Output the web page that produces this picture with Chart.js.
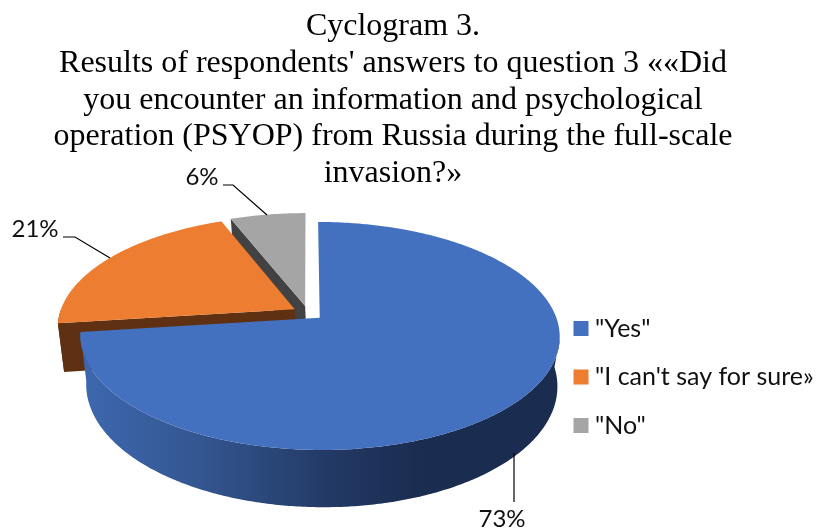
<!DOCTYPE html>
<html>
<head>
<meta charset="utf-8">
<script src="https://cdn.jsdelivr.net/npm/chart.js@4"></script>
<style>
html,body{margin:0;padding:0;background:#fff}
canvas{display:block}
</style>
</head>
<body>
<canvas id="chart" width="817" height="531"></canvas>
<script>
const answers = ['"Yes"', '"I can\'t say for sure»', '"No"'];
const shares = [73, 21, 6];
const faceColors = ['#4371C0', '#ED7D31', '#A5A5A5'];
const sideColors = [null, '#5F3112', '#424242'];
const titleLines = [
  'Cyclogram 3.',
  "Results of respondents' answers to question 3 ««Did",
  'you encounter an information and psychological',
  'operation (PSYOP) from Russia during the full-scale',
  'invasion?»'
];

// Perspective model of the pie: a unit disc projected on two parallel planes.
const upper = { cx: 308, cy: 313, a: 235, b: 109.6, k: 0.158 };
const lower = { cx: 310, cy: 361, a: 231, b: 117, k: 0.158 };
const explode = 0.066;

// Leader lines and value labels around the pie.
const callouts = [
  { text: [502, 519], path: [[514, 453], [514, 502]] },
  { text: [35, 229], path: [[63, 237], [75, 237], [110, 258]] },
  { text: [202, 177], path: [[223, 185], [233, 185], [267, 215]] }
];

function project(plane, u, v) {
  const d = 1 - plane.k * v;
  return [plane.cx + plane.a * u / d, plane.cy + plane.b * v / d];
}

// Rim of an exploded slice on one plane, limited to angles accepted by keep.
function arcPoints(plane, arc, keep) {
  const mid = (arc.startAngle + arc.endAngle) / 2;
  const ox = explode * Math.cos(mid), oy = explode * Math.sin(mid);
  const steps = Math.ceil((arc.endAngle - arc.startAngle) / 0.01);
  const pts = [];
  for (let i = 0; i <= steps; i++) {
    const t = arc.startAngle + (arc.endAngle - arc.startAngle) * i / steps;
    if (keep && !keep(t)) continue;
    pts.push(project(plane, ox + Math.cos(t), oy + Math.sin(t)));
  }
  return { pts, apex: project(plane, ox, oy) };
}

// The outer wall runs between the tangent points of the two rims.
const upperFront = t => Math.sin(t) >= (Math.cos(t) > 0 ? 0.18 : 0);
const lowerFront = t => Math.sin(t) >= 0;

function fillPath(ctx, pts, style) {
  ctx.beginPath();
  pts.forEach((p, i) => i ? ctx.lineTo(p[0], p[1]) : ctx.moveTo(p[0], p[1]));
  ctx.closePath();
  ctx.fillStyle = style;
  ctx.fill();
}

const pie3d = {
  id: 'pie3d',
  afterLayout(chart) {
    chart.titleBlock.right = 786;
    const lg = chart.legend;
    lg.left = 579.5 - 23.5;
    lg.top = 316 - 23.5;
    lg.bottom = 531;
  },
  beforeDatasetsDraw(chart) {
    const ctx = chart.ctx;
    const arcs = chart.getDatasetMeta(0).data;
    const blueSide = ctx.createLinearGradient(85, 0, 420, 0);
    blueSide.addColorStop(0, '#3D67AE');
    blueSide.addColorStop(0.35, '#33568F');
    blueSide.addColorStop(0.72, '#233A66');
    blueSide.addColorStop(1, '#1A2C50');

    // Back slices first so the large front slice overlaps them.
    [2, 1, 0].forEach(i => {
      const arc = arcs[i];
      const side = sideColors[i] || blueSide;
      const top = arcPoints(upper, arc);
      const bot = arcPoints(lower, arc);
      if (i > 0) {
        fillPath(ctx, [top.apex, top.pts[0], bot.pts[0], bot.apex], side);
      }
      const rimTop = arcPoints(upper, arc, upperFront).pts;
      const rimBot = arcPoints(lower, arc, lowerFront).pts;
      if (rimTop.length > 1) {
        fillPath(ctx, rimTop.concat(rimBot.reverse()), side);
      }
      fillPath(ctx, [top.apex].concat(top.pts), faceColors[i]);
    });

    // Leader lines and percentage labels.
    ctx.strokeStyle = '#000';
    ctx.lineWidth = 1.2;
    ctx.fillStyle = '#111';
    ctx.font = '24px Lato';
    ctx.textAlign = 'center';
    ctx.textBaseline = 'middle';
    callouts.forEach((c, i) => {
      ctx.beginPath();
      c.path.forEach((p, j) => j ? ctx.lineTo(p[0], p[1]) : ctx.moveTo(p[0], p[1]));
      ctx.stroke();
      ctx.fillText(shares[i] + '%', c.text[0], c.text[1]);
    });
    return false;
  }
};

new Chart(document.getElementById('chart'), {
  type: 'pie',
  data: {
    labels: answers,
    datasets: [{ data: shares, backgroundColor: faceColors, borderWidth: 0 }]
  },
  options: {
    responsive: false,
    animation: false,
    layout: { padding: 0 },
    plugins: {
      tooltip: { enabled: false },
      title: {
        display: true,
        text: titleLines,
        color: '#000',
        padding: { top: 8.5, bottom: 0 },
        font: { family: '"Liberation Serif"', size: 32, weight: 'normal', lineHeight: 1.147 }
      },
      legend: {
        position: 'right',
        align: 'start',
        labels: {
          boxWidth: 3,
          boxHeight: 3,
          padding: 23.5,
          color: '#111',
          font: { family: 'Lato', size: 25 },
          // A small box with a thick border of the same colour makes the swatch,
          // keeping the label text close to it.
          generateLabels: chart => answers.map((text, i) => ({
            text,
            index: i,
            fillStyle: faceColors[i],
            strokeStyle: faceColors[i],
            lineWidth: 12,
            lineJoin: 'miter',
            fontColor: '#111'
          }))
        }
      }
    }
  },
  plugins: [pie3d]
});
</script>
</body>
</html>
